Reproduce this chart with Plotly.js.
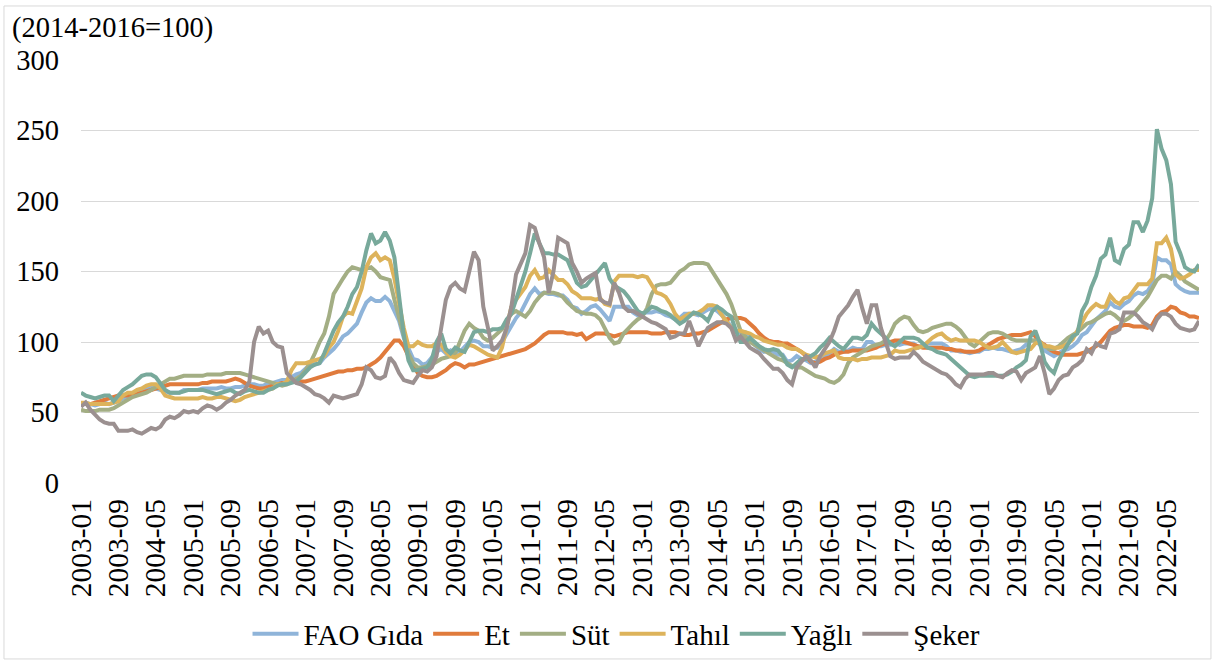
<!DOCTYPE html>
<html>
<head>
<meta charset="utf-8">
<script src="https://cdn.plot.ly/plotly-3.0.1.min.js"></script>
<style>
  html, body { margin: 0; padding: 0; background: #fff; }
  #grafik { width: 1215px; height: 663px; }
</style>
</head>
<body>
<div id="grafik"></div>
<script>
// aylik etiketler 2003-01 .. 2022-12
var aylar = [];
for (var yil = 2003; yil <= 2022; yil++) {
    for (var ay = 1; ay <= 12; ay++) {
        aylar.push(yil + '-' + (ay < 10 ? '0' + ay : ay));
    }
}

var seriAdlari = ['FAO Gıda', 'Et', 'Süt', 'Tahıl', 'Yağlı', 'Şeker'];
var renkler = ['#8fb4d9', '#e07b3c', '#a3ae84', '#ddb35b', '#78a99b', '#9b9090'];

var faoGida = [
    56, 57, 56, 55, 56, 57, 56, 57, 58, 60, 61, 62,
    64, 66, 67, 68, 67, 66, 65, 64, 64, 64, 66, 66,
    66, 66, 67, 67, 67, 67, 68, 67, 67, 68, 68, 69,
    70, 70, 69, 69, 71, 71, 72, 73, 73, 75, 77, 78,
    81, 84, 84, 85, 89, 92, 95, 99, 104, 106, 110, 113,
    121, 128, 131, 129, 129, 132, 129, 122, 115, 103, 95, 88,
    87, 84, 85, 89, 93, 95, 92, 94, 91, 93, 97, 100,
    101, 100, 97, 97, 96, 96, 100, 106, 111, 117, 121, 127,
    134, 138, 134, 135, 134, 134, 133, 133, 130, 125, 124, 120,
    122, 125, 126, 123, 119, 115, 125, 125, 125, 125, 121, 119,
    120, 121, 121, 122, 121, 119, 118, 116, 117, 120, 120, 120,
    119, 121, 123, 124, 122, 119, 115, 112, 107, 107, 107, 103,
    98, 95, 93, 94, 93, 91, 91, 86, 87, 90, 88, 87,
    85, 86, 88, 89, 92, 95, 93, 93, 94, 96, 95, 95,
    100, 100, 97, 97, 98, 98, 99, 98, 99, 99, 99, 96,
    98, 99, 99, 99, 99, 97, 94, 94, 93, 93, 92, 93,
    93, 95, 95, 96, 95, 95, 94, 93, 94, 95, 98, 101,
    101, 98, 94, 92, 90, 92, 94, 95, 97, 100, 105, 107,
    112, 116, 119, 122, 128, 125, 124, 127, 129, 133, 135, 134,
    136, 141, 160, 158, 158, 155, 141, 138, 136, 135, 135, 135
];

var et = [
    56, 56, 56, 57, 58, 59, 60, 61, 62, 62, 62, 63,
    63, 64, 65, 66, 67, 68, 69, 70, 70, 70, 70, 70,
    70, 70, 71, 71, 72, 72, 72, 72, 73, 74, 73, 71,
    69, 68, 67, 67, 68, 69, 70, 71, 71, 72, 72, 72,
    72, 73, 74, 75, 76, 77, 78, 79, 79, 80, 80, 81,
    81, 82, 84, 86, 89, 93, 97, 101, 101, 97, 90, 84,
    78, 76, 75, 75, 76, 78, 80, 83, 85, 84, 82, 84,
    84, 85, 86, 87, 88, 89, 90, 91, 92, 93, 94, 95,
    97, 99, 102, 105, 107, 107, 107, 107, 106, 106, 105, 106,
    102, 104, 106, 106, 106, 105, 104, 105, 106, 107, 107, 107,
    107, 107, 106, 106, 106, 107, 107, 107, 106, 105, 105, 106,
    106, 107, 108, 110, 112, 114, 116, 117, 117, 117, 116, 113,
    110, 106, 103, 101, 100, 100, 99, 99, 97, 95, 93, 90,
    86, 85, 86, 88, 89, 91, 92, 93, 93, 94, 94, 94,
    94, 95, 96, 98, 99, 100, 101, 101, 100, 99, 98, 97,
    96, 96, 96, 96, 96, 95, 95, 94, 94, 93, 93, 93,
    94, 96, 98, 100, 102, 103, 104, 105, 105, 105, 106, 107,
    104, 100, 98, 95, 93, 92, 91, 91, 91, 91, 92, 93,
    95, 97, 100, 104, 108, 110, 111, 112, 112, 111, 111, 111,
    110, 112, 118, 121, 122, 125, 124, 121, 120, 118, 118, 117
];

var sut = [
    52, 51, 51, 51, 52, 52, 52, 53, 55, 57, 59, 61,
    62, 63, 64, 66, 68, 70, 72, 74, 74, 75, 76, 76,
    76, 76, 76, 77, 77, 77, 77, 78, 78, 78, 78, 77,
    76, 75, 74, 73, 72, 71, 70, 69, 70, 72, 74, 76,
    80, 85, 92, 100, 106, 118, 134, 140, 145, 150, 153, 152,
    151, 152, 153, 150, 146, 145, 144, 130, 118, 105, 92, 85,
    82, 82, 83, 84, 86, 88, 89, 90, 92, 100, 108, 113,
    110, 108, 103, 101, 103, 106, 109, 115, 120, 122, 120, 118,
    122, 128, 132, 135, 135, 135, 134, 132, 128, 125, 122, 121,
    120, 120, 119, 116, 110, 103, 99, 100, 106, 110, 113, 116,
    118, 124, 134, 140, 141, 141, 142, 146, 150, 152, 155, 156,
    156, 156, 155, 150, 144, 140, 134, 127, 118, 108, 104, 100,
    98, 96, 94, 92, 90, 88, 87, 85, 83, 82, 82, 80,
    78, 76, 75, 74, 72, 71, 73, 77, 85, 89, 91, 93,
    95, 97, 98, 99, 101, 106, 113, 116, 118, 117, 112, 108,
    107, 108, 110, 111, 112, 113, 113, 111, 108, 104, 99, 97,
    100, 103, 106, 107, 107, 106, 104, 102, 101, 101, 101, 101,
    101, 100, 97, 95, 95, 97, 100, 103, 105, 107, 110, 113,
    114, 116, 118, 120, 121, 119, 116, 115, 117, 120, 124, 128,
    132, 138, 144, 147, 147, 145, 150, 147, 143, 141, 139, 137
];

var tahil = [
    57, 57, 56, 56, 56, 56, 56, 57, 58, 62, 64, 64,
    66, 67, 69, 70, 70, 67, 62, 61, 60, 60, 60, 60,
    60, 60, 61, 60, 60, 61, 61, 60, 59, 58, 59, 61,
    62, 63, 64, 65, 66, 67, 70, 70, 72, 80, 85, 85,
    85, 86, 87, 88, 90, 96, 100, 108, 118, 121, 120, 130,
    138, 153, 160, 163, 158, 160, 158, 145, 128, 110, 97, 97,
    100, 98, 97, 97, 99, 98, 93, 90, 89, 91, 94, 98,
    97, 95, 93, 91, 90, 89, 96, 110, 125, 130, 135, 139,
    147, 151, 145, 146, 151, 147, 144, 144, 141, 136, 134, 131,
    131, 131, 130, 131, 127, 126, 143, 147, 147, 147, 147, 146,
    147, 146, 141, 135, 134, 132, 127, 120, 116, 118, 120, 120,
    121, 123, 126, 126, 125, 119, 115, 110, 108, 108, 107, 106,
    104, 103, 101, 100, 99, 98, 98, 96, 95, 95, 93, 91,
    90, 89, 90, 92, 93, 94, 89, 88, 88, 88, 87, 88,
    88, 89, 89, 89, 90, 91, 94, 93, 93, 94, 95, 96,
    97, 100, 103, 105, 106, 103, 101, 102, 101, 101, 101, 101,
    100, 98, 96, 96, 97, 100, 96, 93, 92, 93, 94, 95,
    99, 100, 97, 97, 96, 96, 97, 99, 102, 108, 113, 120,
    124, 127, 125, 125, 133, 129, 127, 131, 132, 136, 141, 141,
    141, 145, 170, 170, 174, 166, 148, 145, 146, 148, 151, 151
];

var yagli = [
    64, 62, 61, 60, 61, 62, 62, 58, 62, 66, 68, 70,
    73, 76, 77, 77, 75, 70, 66, 64, 64, 64, 65, 66,
    66, 66, 66, 65, 64, 63, 64, 65, 66, 64, 63, 65,
    66, 65, 64, 64, 66, 67, 69, 70, 70, 71, 72, 75,
    79, 82, 84, 85, 92, 100, 108, 114, 118, 125, 134, 139,
    150, 165, 177, 170, 172, 178, 172, 160, 130, 105, 87, 80,
    80, 81, 82, 88, 100, 106, 95, 92, 96, 94, 93, 100,
    107, 108, 108, 107, 109, 109, 110, 116, 120, 130, 139, 150,
    163, 177, 170, 163, 163, 162, 162, 160, 158, 150, 142, 139,
    140, 144, 148, 152, 156, 145, 140, 138, 136, 132, 127, 122,
    120, 122, 125, 124, 122, 121, 119, 116, 113, 115, 118, 121,
    120, 118, 115, 122, 125, 123, 120, 118, 108, 100, 100, 103,
    100, 97, 95, 94, 95, 94, 90, 84, 82, 85, 88, 88,
    90, 92, 96, 99, 103, 100, 97, 95, 99, 103, 103, 102,
    105, 113, 109, 106, 103, 99, 97, 100, 103, 103, 103, 102,
    99, 96, 95, 93, 92, 91, 88, 85, 82, 79, 76, 75,
    76, 76, 76, 76, 76, 76, 77, 79, 82, 84, 87, 104,
    108, 99, 86, 81, 78, 87, 93, 99, 104, 106, 122, 128,
    139, 147, 159, 162, 174, 158, 156, 166, 169, 185, 185, 178,
    186, 202, 251, 237, 229, 212, 171, 163, 153, 151, 150, 155
];

var seker = [
    54, 57, 52, 48, 45, 43, 42, 42, 37, 37, 37, 38,
    36, 35, 37, 39, 38, 40, 45, 47, 46, 48, 51, 50,
    51, 50, 53, 55, 54, 52, 54, 57, 59, 62, 64, 66,
    72, 100, 111, 106, 108, 100, 97, 96, 78, 74, 71, 70,
    68, 66, 63, 62, 60, 57, 62, 61, 60, 61, 62, 63,
    70, 82, 80, 75, 74, 76, 89, 85, 78, 73, 72, 71,
    76, 80, 79, 82, 90, 110, 130, 139, 142, 138, 136, 150,
    164, 158, 125, 110, 94, 97, 101, 110, 125, 148, 155, 163,
    183, 181, 170, 160, 135, 150, 174, 172, 170, 156, 150, 142,
    145, 147, 149, 130, 128, 127, 142, 135, 125, 122, 122, 120,
    118, 116, 114, 113, 111, 109, 103, 104, 106, 106, 115, 105,
    97, 104, 110, 112, 114, 114, 113, 110, 101, 104, 100, 96,
    94, 92, 88, 84, 81, 81, 78, 73, 70, 82, 86, 90,
    87, 82, 90, 95, 100, 108, 118, 122, 126, 132, 137, 124,
    113, 126, 126, 110, 101, 90, 88, 89, 89, 89, 93, 90,
    86, 84, 82, 80, 78, 77, 74, 70, 68, 74, 77, 77,
    77, 77, 78, 78, 76, 75, 78, 80, 79, 73, 78, 80,
    82, 90, 78, 63, 67, 73, 76, 77, 82, 84, 87, 95,
    92, 99, 97, 96, 106, 107, 109, 121, 121, 121, 118, 114,
    112, 109, 116, 120, 120, 118, 113, 110, 109, 108, 109, 115
];

var seriler = [faoGida, et, sut, tahil, yagli, seker];

var yaziTipi = 'Liberation Serif';

var data = seriler.map(function(degerler, i) {
    return {
        x: aylar,
        y: degerler,
        type: 'scatter',
        mode: 'lines',
        name: seriAdlari[i],
        line: {color: renkler[i], width: 4}
    };
});

var etiketler = aylar.filter(function(a, i) { return i % 8 === 0; });

var layout = {
    width: 1215,
    height: 663,
    margin: {l: 81, r: 16, t: 60, b: 180},
    paper_bgcolor: '#ffffff',
    plot_bgcolor: '#ffffff',
    font: {family: yaziTipi, size: 28, color: '#000000'},
    showlegend: true,
    legend: {
        orientation: 'h',
        x: 0.479, xanchor: 'center',
        yref: 'container',
        y: 0.044, yanchor: 'middle',
        bgcolor: 'rgba(0,0,0,0)',
        font: {family: yaziTipi, size: 29, color: '#000000'},
        itemwidth: 46,
        tracegroupgap: 0
    },
    xaxis: {
        type: 'category',
        range: [0, aylar.length - 1],
        tickmode: 'array',
        tickvals: etiketler,
        ticktext: etiketler,
        tickangle: -90,
        showgrid: false,
        zeroline: false,
        showline: false,
        ticks: '',
        automargin: false,
        ticklabelstandoff: 9,
        tickfont: {family: yaziTipi, size: 29.5, color: '#000000'}
    },
    yaxis: {
        range: [0, 300],
        dtick: 50,
        showgrid: true,
        gridcolor: '#d9d9d9',
        gridwidth: 1.3,
        zeroline: false,
        showline: false,
        ticks: '',
        automargin: false,
        ticklabelstandoff: 21,
        tickfont: {family: yaziTipi, size: 28.5, color: '#000000'}
    },
    annotations: [{
        text: '(2014-2016=100)',
        xref: 'paper', yref: 'paper',
        x: -0.0635, y: 1.0757,
        xanchor: 'left', yanchor: 'middle',
        showarrow: false,
        font: {family: yaziTipi, size: 28.5, color: '#000000'}
    }],
    shapes: [{
        type: 'rect',
        xref: 'paper', yref: 'paper',
        x0: -0.0689, x1: 1.0107, y0: -0.416, y1: 1.1277,
        line: {color: '#d9d9d9', width: 1},
        fillcolor: 'rgba(0,0,0,0)',
        layer: 'below'
    }]
};

Plotly.newPlot('grafik', data, layout, {displayModeBar: false});
</script>
</body>
</html>
